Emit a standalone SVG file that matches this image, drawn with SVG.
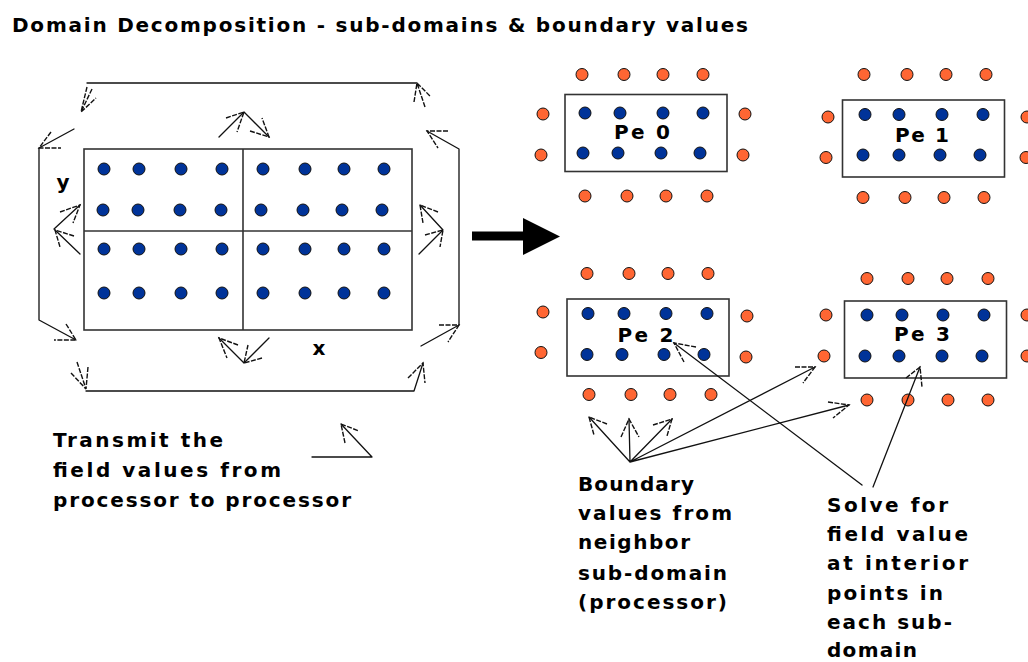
<svg xmlns="http://www.w3.org/2000/svg" width="1028" height="662" viewBox="0 0 1028 662">
  <style>
    .lbl { font-family: "DejaVu Sans", "Liberation Sans", sans-serif; font-weight: bold; font-size: 20px; fill: #000; }
    .box { fill: none; stroke: #333; stroke-width: 1.6; }
    .in { fill: #003399; stroke: #111; stroke-width: 1; }
    .bd { fill: #ff6633; stroke: #111; stroke-width: 1; }
    .ln { fill: none; stroke: #111; stroke-width: 1.3; stroke-linecap: round; stroke-linejoin: round; }
    .bb { fill: none; stroke: #111; stroke-width: 1.4; stroke-dasharray: 5 1.5; }
  </style>
  <rect width="1028" height="662" fill="#fff"/>

  <text class="lbl" x="12" y="32" textLength="736" lengthAdjust="spacing">Domain Decomposition - sub-domains &amp; boundary values</text>

  <!-- Whole domain split into four sub-domains -->
  <g id="domain">
    <rect class="box" x="84" y="149" width="328" height="181"/>
    <line class="box" x1="243" y1="149" x2="243" y2="330"/>
    <line class="box" x1="84" y1="231" x2="412" y2="231"/>
    <g>
      <circle class="in" cx="104" cy="169" r="6"/><circle class="in" cx="139" cy="169" r="6"/><circle class="in" cx="181" cy="169" r="6"/><circle class="in" cx="222" cy="169" r="6"/>
      <circle class="in" cx="263" cy="169" r="6"/><circle class="in" cx="305" cy="169" r="6"/><circle class="in" cx="344" cy="169" r="6"/><circle class="in" cx="384" cy="169" r="6"/>
      <circle class="in" cx="103" cy="210" r="6"/><circle class="in" cx="138" cy="210" r="6"/><circle class="in" cx="180" cy="210" r="6"/><circle class="in" cx="221" cy="210" r="6"/>
      <circle class="in" cx="261" cy="210" r="6"/><circle class="in" cx="303" cy="210" r="6"/><circle class="in" cx="342" cy="210" r="6"/><circle class="in" cx="382" cy="210" r="6"/>
      <circle class="in" cx="104" cy="249" r="6"/><circle class="in" cx="139" cy="249" r="6"/><circle class="in" cx="181" cy="249" r="6"/><circle class="in" cx="222" cy="249" r="6"/>
      <circle class="in" cx="263" cy="249" r="6"/><circle class="in" cx="305" cy="249" r="6"/><circle class="in" cx="344" cy="249" r="6"/><circle class="in" cx="384" cy="249" r="6"/>
      <circle class="in" cx="104" cy="293" r="6"/><circle class="in" cx="139" cy="293" r="6"/><circle class="in" cx="181" cy="293" r="6"/><circle class="in" cx="222" cy="293" r="6"/>
      <circle class="in" cx="263" cy="293" r="6"/><circle class="in" cx="305" cy="293" r="6"/><circle class="in" cx="344" cy="293" r="6"/><circle class="in" cx="384" cy="293" r="6"/>
    </g>
    <text class="lbl" x="63" y="189" text-anchor="middle">y</text>
    <text class="lbl" x="319" y="355" text-anchor="middle">x</text>
  </g>

  <!-- Big transition arrow -->
  <g id="big-arrow">
    <rect x="472" y="231.5" width="53" height="9" fill="#000"/>
    <polygon points="523,218 560,236.5 523,255" fill="#000"/>
  </g>

  <!-- Sub-domain Pe 0 -->
  <g id="pe0">
    <rect class="box" x="565" y="94.5" width="162" height="77"/>
    <circle class="in" cx="585" cy="113" r="6"/><circle class="in" cx="620" cy="113" r="6"/><circle class="in" cx="663" cy="113" r="6"/><circle class="in" cx="703" cy="113" r="6"/>
    <circle class="in" cx="583" cy="153" r="6"/><circle class="in" cx="618" cy="153" r="6"/><circle class="in" cx="661" cy="153" r="6"/><circle class="in" cx="700" cy="153" r="6"/>
    <circle class="bd" cx="582" cy="74.5" r="6"/><circle class="bd" cx="624" cy="74.5" r="6"/><circle class="bd" cx="663" cy="74.5" r="6"/><circle class="bd" cx="703" cy="74.5" r="6"/>
    <circle class="bd" cx="585" cy="196" r="6"/><circle class="bd" cx="627" cy="196" r="6"/><circle class="bd" cx="666" cy="196" r="6"/><circle class="bd" cx="707" cy="196" r="6"/>
    <circle class="bd" cx="543" cy="114" r="6"/><circle class="bd" cx="541" cy="155" r="6"/>
    <circle class="bd" cx="745" cy="114" r="6"/><circle class="bd" cx="743" cy="155" r="6"/>
    <text class="lbl" x="642" y="139" text-anchor="middle" textLength="56" lengthAdjust="spacing">Pe 0</text>
  </g>

  <!-- Sub-domain Pe 1 -->
  <g id="pe1">
    <rect class="box" x="842.5" y="100" width="162" height="77"/>
    <circle class="in" cx="865" cy="114.5" r="6"/><circle class="in" cx="899" cy="114.5" r="6"/><circle class="in" cx="942" cy="114.5" r="6"/><circle class="in" cx="983" cy="114.5" r="6"/>
    <circle class="in" cx="863" cy="155" r="6"/><circle class="in" cx="899" cy="155" r="6"/><circle class="in" cx="940" cy="155" r="6"/><circle class="in" cx="980" cy="155" r="6"/>
    <circle class="bd" cx="864" cy="74.5" r="6"/><circle class="bd" cx="907" cy="74.5" r="6"/><circle class="bd" cx="946" cy="74.5" r="6"/><circle class="bd" cx="986" cy="74.5" r="6"/>
    <circle class="bd" cx="863" cy="197.5" r="6"/><circle class="bd" cx="905" cy="197.5" r="6"/><circle class="bd" cx="944" cy="197.5" r="6"/><circle class="bd" cx="984" cy="197.5" r="6"/>
    <circle class="bd" cx="828" cy="117" r="6"/><circle class="bd" cx="826" cy="157.5" r="6"/>
    <circle class="bd" cx="1027" cy="117" r="6"/><circle class="bd" cx="1026" cy="157.5" r="6"/>
    <text class="lbl" x="922" y="142" text-anchor="middle" textLength="54" lengthAdjust="spacing">Pe 1</text>
  </g>

  <!-- Sub-domain Pe 2 -->
  <g id="pe2">
    <rect class="box" x="567" y="299" width="162" height="77"/>
    <circle class="in" cx="588" cy="313.5" r="6"/><circle class="in" cx="624" cy="313.5" r="6"/><circle class="in" cx="666" cy="313.5" r="6"/><circle class="in" cx="707" cy="313.5" r="6"/>
    <circle class="in" cx="587" cy="354.5" r="6"/><circle class="in" cx="622" cy="354.5" r="6"/><circle class="in" cx="664" cy="354.5" r="6"/><circle class="in" cx="704" cy="354.5" r="6"/>
    <circle class="bd" cx="587" cy="273.5" r="6"/><circle class="bd" cx="629" cy="273.5" r="6"/><circle class="bd" cx="668" cy="273.5" r="6"/><circle class="bd" cx="708" cy="273.5" r="6"/>
    <circle class="bd" cx="589" cy="394.5" r="6"/><circle class="bd" cx="631" cy="394.5" r="6"/><circle class="bd" cx="670" cy="394.5" r="6"/><circle class="bd" cx="711" cy="394.5" r="6"/>
    <circle class="bd" cx="543" cy="312" r="6"/><circle class="bd" cx="541" cy="352.5" r="6"/>
    <circle class="bd" cx="747" cy="316" r="6"/><circle class="bd" cx="746" cy="357" r="6"/>
    <text class="lbl" x="645.5" y="342" text-anchor="middle" textLength="56" lengthAdjust="spacing">Pe 2</text>
  </g>

  <!-- Sub-domain Pe 3 -->
  <g id="pe3">
    <rect class="box" x="844.5" y="301" width="162" height="77"/>
    <circle class="in" cx="867" cy="315" r="6"/><circle class="in" cx="902" cy="315" r="6"/><circle class="in" cx="943" cy="315" r="6"/><circle class="in" cx="984" cy="315" r="6"/>
    <circle class="in" cx="865" cy="356" r="6"/><circle class="in" cx="899" cy="356" r="6"/><circle class="in" cx="942" cy="356" r="6"/><circle class="in" cx="982" cy="356" r="6"/>
    <circle class="bd" cx="867" cy="278.5" r="6"/><circle class="bd" cx="908" cy="278.5" r="6"/><circle class="bd" cx="947" cy="278.5" r="6"/><circle class="bd" cx="988" cy="278.5" r="6"/>
    <circle class="bd" cx="867" cy="400" r="6"/><circle class="bd" cx="908" cy="400" r="6"/><circle class="bd" cx="948" cy="400" r="6"/><circle class="bd" cx="988" cy="400" r="6"/>
    <circle class="bd" cx="826" cy="315" r="6"/><circle class="bd" cx="824" cy="356" r="6"/>
    <circle class="bd" cx="1027" cy="315" r="6"/><circle class="bd" cx="1027" cy="356" r="6"/>
    <text class="lbl" x="922" y="341" text-anchor="middle" textLength="56" lengthAdjust="spacing">Pe 3</text>
  </g>

  <!-- Captions -->
  <g id="transmit-note">
    <text class="lbl" x="53" y="446.5" textLength="170" lengthAdjust="spacing">Transmit the</text>
    <text class="lbl" x="53" y="476.5" textLength="228" lengthAdjust="spacing">field values from</text>
    <text class="lbl" x="53" y="506.5" textLength="298" lengthAdjust="spacing">processor to processor</text>
  </g>
  <g id="boundary-note">
    <text class="lbl" x="578" y="491" textLength="116" lengthAdjust="spacing">Boundary</text>
    <text class="lbl" x="578" y="520" textLength="154" lengthAdjust="spacing">values from</text>
    <text class="lbl" x="578" y="549" textLength="112" lengthAdjust="spacing">neighbor</text>
    <text class="lbl" x="578" y="579.5" textLength="149" lengthAdjust="spacing">sub-domain</text>
    <text class="lbl" x="578" y="608.5" textLength="149" lengthAdjust="spacing">(processor)</text>
  </g>
  <g id="solve-note">
    <text class="lbl" x="827" y="512" textLength="121" lengthAdjust="spacing">Solve for</text>
    <text class="lbl" x="827" y="541" textLength="141" lengthAdjust="spacing">field value</text>
    <text class="lbl" x="827" y="570" textLength="141" lengthAdjust="spacing">at interior</text>
    <text class="lbl" x="827" y="599.5" textLength="116" lengthAdjust="spacing">points in</text>
    <text class="lbl" x="827" y="628.5" textLength="125" lengthAdjust="spacing">each sub-</text>
    <text class="lbl" x="827" y="657" textLength="90" lengthAdjust="spacing">domain</text>
  </g>

  <!-- Connectors: exchange paths round the domain and pointer arrows -->
  <g id="connectors">
    <!-- top run -->
    <path class="ln" d="M87,83 H417"/>
    <path class="bb" d="M87,87 L81,112 L96,98 M92,89 L81,112"/>
    <path class="bb" d="M414,102 L417,83 L430,96 M425,107 L417,83"/>
    <!-- left run -->
    <path class="ln" d="M74,129 L39,148 V320 L76,340"/>
    <path class="bb" d="M51,132 L39,148 L61,148"/>
    <path class="bb" d="M66,324 L76,340 L54,340"/>
    <path class="ln" d="M54,229 L80,205 M80,254 L55,230"/>
    <path class="bb" d="M60,212 L80,205 L73,223"/>
    <path class="bb" d="M74,236 L55,230 L60,247"/>
    <!-- upper exchange between halves -->
    <path class="ln" d="M219,137 L244,112 L269,137"/>
    <path class="bb" d="M226,118 L244,112 L237,132"/>
    <path class="bb" d="M250,131 L269,137 L262,118"/>
    <!-- right run -->
    <path class="ln" d="M427,131 L459,149 V325 L421,346"/>
    <path class="bb" d="M448,131 L427,131 L438,148"/>
    <path class="bb" d="M439,325 L459,325 L448,342"/>
    <path class="ln" d="M443,230 L420,205 M419,254 L443,230"/>
    <path class="bb" d="M438,212 L420,205 L423,223"/>
    <path class="bb" d="M425,235 L443,230 L440,247"/>
    <!-- lower exchange between halves -->
    <path class="ln" d="M269,338 L244,363 L219,338"/>
    <path class="bb" d="M262,358 L244,363 L248,345"/>
    <path class="bb" d="M238,345 L219,338 L227,358"/>
    <!-- bottom run -->
    <path class="ln" d="M86,391 H414 L423,363"/>
    <path class="bb" d="M77,362 L86,389 L71,373 M88,367 L86,389"/>
    <path class="bb" d="M408,378 L423,363 L425,383"/>
    <!-- transmit caption pointer -->
    <path class="ln" d="M312,457 H372 L341,424"/>
    <path class="bb" d="M345,443 L341,424 L359,431"/>

    <!-- interior pointers -->
    <path class="ln" d="M862,485 L674,343"/>
    <path class="bb" d="M696,347 L674,343 L684,362"/>
    <path class="ln" d="M873,487 L920,367"/>
    <path class="bb" d="M906,378 L920,367 L922,387"/>
    <!-- boundary pointers from the caption -->
    <path class="ln" d="M630,462 L589,417 M630,462 L629,419 M630,462 L672,419 M630,462 L815,367 M630,462 L849,405"/>
    <path class="bb" d="M607,424 L589,417 L594,435"/>
    <path class="bb" d="M621,437 L629,419 L639,437"/>
    <path class="bb" d="M653,425 L672,419 L667,436"/>
    <path class="bb" d="M795,367 L815,367 L803,383"/>
    <path class="bb" d="M828,402 L849,405 L833,418"/>
  </g>
</svg>
